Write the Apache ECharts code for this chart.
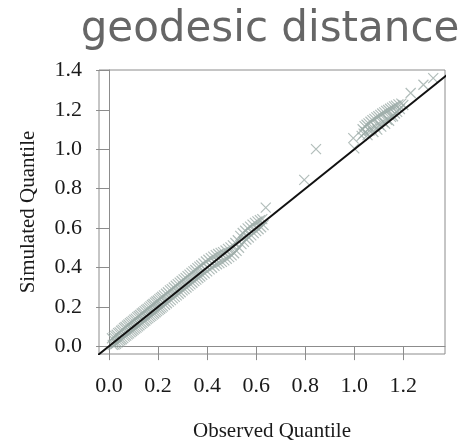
<!DOCTYPE html>
<html>
<head>
<meta charset="utf-8">
<script src="https://cdn.jsdelivr.net/npm/echarts@6/dist/echarts.min.js"></script>
<style>
  html, body { margin: 0; padding: 0; background: #fff; }
  #chart { width: 467px; height: 444px; }
</style>
</head>
<body>
<div id="chart"></div>
<script>
// Sorted quantiles: observed (x) against simulated (y)
const observed = [
  0.012, 0.015, 0.019, 0.022, 0.025, 0.028, 0.031, 0.034, 0.037, 0.040,
  0.043, 0.046, 0.049, 0.052, 0.055, 0.058, 0.061, 0.064, 0.067, 0.070,
  0.073, 0.076, 0.079, 0.082, 0.085, 0.088, 0.091, 0.094, 0.097, 0.100,
  0.103, 0.106, 0.109, 0.112, 0.115, 0.118, 0.121, 0.124, 0.127, 0.130,
  0.133, 0.136, 0.139, 0.142, 0.145, 0.148, 0.151, 0.154, 0.157, 0.160,
  0.163, 0.166, 0.169, 0.172, 0.175, 0.178, 0.181, 0.184, 0.187, 0.190,
  0.193, 0.196, 0.199, 0.202, 0.205, 0.208, 0.211, 0.214, 0.217, 0.220,
  0.224, 0.228, 0.232, 0.236, 0.240, 0.244, 0.248, 0.252, 0.256, 0.260,
  0.264, 0.268, 0.272, 0.276, 0.280, 0.284, 0.288, 0.292, 0.296, 0.300,
  0.304, 0.308, 0.312, 0.316, 0.320, 0.324, 0.328, 0.332, 0.336, 0.340,
  0.344, 0.348, 0.352, 0.356, 0.360, 0.364, 0.368, 0.372, 0.376, 0.380,
  0.385, 0.390, 0.395, 0.400, 0.405, 0.410, 0.415, 0.420, 0.425, 0.430,
  0.435, 0.440, 0.445, 0.450, 0.455, 0.460, 0.465, 0.470, 0.475, 0.480,
  0.485, 0.490, 0.495, 0.500, 0.505, 0.510, 0.515, 0.520, 0.525, 0.530,
  0.535, 0.540, 0.545, 0.550, 0.555, 0.560, 0.565, 0.570, 0.575, 0.580,
  0.585, 0.590, 0.595, 0.600, 0.605, 0.610, 0.615, 0.620, 0.625, 0.630,
  0.639, 0.796, 0.844, 0.996, 1.000,
  1.030, 1.034, 1.038, 1.042, 1.046, 1.050, 1.054, 1.058, 1.062, 1.066,
  1.070, 1.074, 1.078, 1.082, 1.086, 1.090, 1.094, 1.098, 1.102, 1.106,
  1.110, 1.114, 1.118, 1.122, 1.126, 1.130, 1.134, 1.138, 1.142, 1.146,
  1.150, 1.154, 1.158, 1.162, 1.166, 1.170, 1.175, 1.180, 1.186, 1.192,
  1.200, 1.230, 1.282, 1.322
];
const simulated = [
  0.040, 0.006, 0.046, 0.008, 0.052, 0.012, 0.058, 0.018, 0.066, 0.024,
  0.070, 0.030, 0.078, 0.035, 0.084, 0.041, 0.092, 0.048, 0.097, 0.053,
  0.104, 0.060, 0.110, 0.065, 0.117, 0.071, 0.122, 0.077, 0.128, 0.083,
  0.135, 0.089, 0.140, 0.094, 0.147, 0.100, 0.153, 0.106, 0.158, 0.113,
  0.166, 0.118, 0.171, 0.125, 0.178, 0.130, 0.184, 0.137, 0.189, 0.142,
  0.196, 0.149, 0.202, 0.154, 0.209, 0.160, 0.214, 0.166, 0.221, 0.172,
  0.227, 0.178, 0.232, 0.184, 0.239, 0.190, 0.245, 0.196, 0.251, 0.202,
  0.258, 0.210, 0.266, 0.218, 0.274, 0.226, 0.283, 0.234, 0.290, 0.243,
  0.298, 0.250, 0.307, 0.258, 0.315, 0.266, 0.323, 0.274, 0.331, 0.283,
  0.339, 0.290, 0.347, 0.298, 0.356, 0.306, 0.363, 0.314, 0.372, 0.322,
  0.380, 0.330, 0.387, 0.338, 0.396, 0.346, 0.404, 0.354, 0.411, 0.362,
  0.420, 0.370, 0.430, 0.380, 0.439, 0.390, 0.447, 0.398, 0.455, 0.408,
  0.462, 0.416, 0.468, 0.422, 0.474, 0.428, 0.478, 0.436, 0.486, 0.444,
  0.494, 0.452, 0.502, 0.461, 0.512, 0.472, 0.524, 0.484, 0.538, 0.500,
  0.560, 0.518, 0.575, 0.530, 0.586, 0.542, 0.598, 0.552, 0.607, 0.563,
  0.617, 0.574, 0.626, 0.584, 0.634, 0.594, 0.640, 0.604, 0.645, 0.615,
  0.704, 0.845, 1.001, 1.057, 1.005,
  1.068, 1.102, 1.080, 1.118, 1.088, 1.125, 1.072, 1.132, 1.095, 1.140,
  1.105, 1.148, 1.088, 1.155, 1.115, 1.162, 1.100, 1.168, 1.125, 1.175,
  1.115, 1.182, 1.138, 1.188, 1.130, 1.195, 1.150, 1.200, 1.145, 1.206,
  1.165, 1.212, 1.168, 1.218, 1.182, 1.222, 1.190, 1.228, 1.205, 1.232,
  1.225, 1.286, 1.328, 1.362
];
// Identity reference line y = x
const refLine = [[-0.2, -0.2], [1.6, 1.6]];
const xTicks = [0.0, 0.2, 0.4, 0.6, 0.8, 1.0, 1.2];
const yTicks = [0.0, 0.2, 0.4, 0.6, 0.8, 1.0, 1.2, 1.4];

const points = observed.map((x, i) => [x, simulated[i]]);
const crossSymbol = 'path://M0,0L10,10M10,0L0,10';
const labelFont = '"Liberation Serif", "Times New Roman", serif';

const chart = echarts.init(document.getElementById('chart'), null, { renderer: 'canvas' });
chart.setOption({
  animation: false,
  backgroundColor: '#ffffff',
  title: {
    text: 'geodesic distance',
    left: 265,
    textAlign: 'center',
    top: 4,
    textStyle: {
      fontFamily: '"DejaVu Sans", sans-serif',
      fontSize: 42,
      fontWeight: 'normal',
      color: '#666666'
    }
  },
  grid: {
    left: 99, right: 22, top: 70, bottom: 90,
    outerBoundsMode: 'none',
    containLabel: false,
    show: true, borderColor: '#8c8c8c', borderWidth: 1,
    backgroundColor: 'transparent'
  },
  xAxis: {
    type: 'value',
    min: -0.041, max: 1.37,
    name: 'Observed Quantile',
    nameLocation: 'middle',
    nameGap: 67,
    nameTextStyle: { fontFamily: labelFont, fontSize: 21, color: '#1a1a1a' },
    axisLine: { show: true, lineStyle: { color: '#8c8c8c', width: 1 } },
    axisTick: { show: true, length: 14, customValues: xTicks, lineStyle: { color: '#8c8c8c' } },
    axisLabel: {
      customValues: xTicks, margin: 21,
      fontFamily: labelFont, fontSize: 22, color: '#1a1a1a',
      formatter: v => v.toFixed(1)
    },
    splitLine: { show: false }
  },
  yAxis: {
    type: 'value',
    min: -0.04, max: 1.403,
    name: 'Simulated Quantile',
    nameLocation: 'middle',
    nameGap: 60,
    nameTextStyle: { fontFamily: labelFont, fontSize: 21, color: '#1a1a1a' },
    axisLine: { show: true, lineStyle: { color: '#8c8c8c', width: 1 } },
    axisTick: { show: true, length: 13, customValues: yTicks, lineStyle: { color: '#8c8c8c' } },
    axisLabel: {
      customValues: yTicks, margin: 17,
      fontFamily: labelFont, fontSize: 22, color: '#1a1a1a',
      formatter: v => v.toFixed(1)
    },
    splitLine: { show: false }
  },
  series: [
    {
      type: 'scatter',
      data: points,
      symbol: crossSymbol,
      symbolSize: 10,
      itemStyle: { color: 'rgba(0,0,0,0)', borderColor: '#9dada9', borderWidth: 1.2 },
      z: 2
    },
    {
      type: 'line',
      data: refLine,
      showSymbol: false,
      clip: true,
      lineStyle: { color: '#111111', width: 2 },
      z: 3
    }
  ]
});
</script>
</body>
</html>
